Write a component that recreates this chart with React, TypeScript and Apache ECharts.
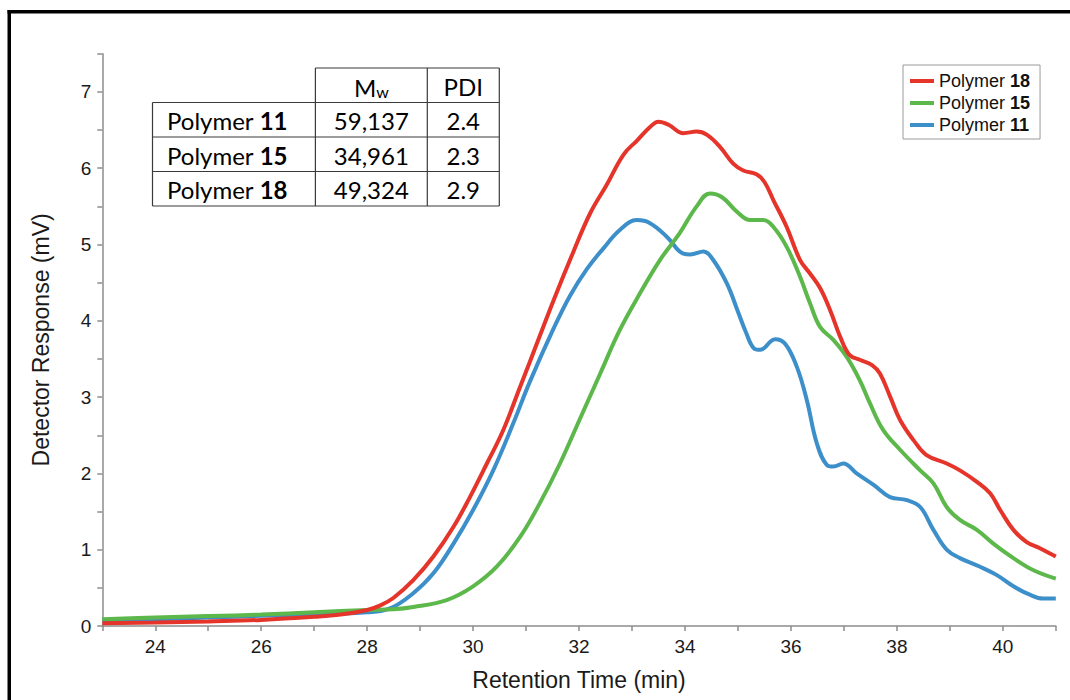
import React, { useEffect, useRef } from "react";
import * as echarts from "echarts";

// Retention time (min) and detector response (mV)
const p18Time = [23, 24, 25, 26, 27, 27.5, 28, 28.25, 28.5, 28.87, 29.25, 29.63, 29.94, 30.26, 30.57, 30.89, 31.07, 31.52, 31.89, 32.21, 32.52, 32.84, 33.09, 33.34, 33.5, 33.69, 33.97, 34.22, 34.41, 34.66, 34.91, 35.1, 35.35, 35.5, 35.67, 35.92, 36.17, 36.36, 36.55, 36.74, 36.93, 37.11, 37.3, 37.53, 37.68, 37.87, 38.06, 38.31, 38.56, 38.94, 39.19, 39.51, 39.76, 39.95, 40.2, 40.45, 40.7, 41];
const p18Resp = [0.035, 0.045, 0.06, 0.08, 0.12, 0.15, 0.21, 0.27, 0.37, 0.6, 0.91, 1.3, 1.69, 2.13, 2.57, 3.14, 3.46, 4.27, 4.9, 5.41, 5.78, 6.18, 6.36, 6.54, 6.61, 6.57, 6.46, 6.48, 6.44, 6.28, 6.06, 5.97, 5.92, 5.82, 5.58, 5.23, 4.8, 4.62, 4.43, 4.14, 3.79, 3.55, 3.49, 3.42, 3.31, 3.01, 2.7, 2.44, 2.24, 2.13, 2.04, 1.89, 1.74, 1.52, 1.26, 1.1, 1.02, 0.91];

const p15Time = [23, 24, 25, 26, 27, 28, 28.5, 28.87, 29.5, 30, 30.45, 30.89, 31.26, 31.64, 32.02, 32.4, 32.77, 33.15, 33.53, 33.9, 34.22, 34.47, 34.7, 34.98, 35.23, 35.48, 35.67, 35.92, 36.17, 36.36, 36.55, 36.8, 37.05, 37.3, 37.49, 37.74, 38.06, 38.44, 38.69, 38.94, 39.19, 39.51, 39.82, 40.2, 40.58, 41];
const p15Resp = [0.09, 0.11, 0.13, 0.15, 0.18, 0.21, 0.22, 0.25, 0.34, 0.52, 0.78, 1.17, 1.61, 2.13, 2.72, 3.31, 3.88, 4.36, 4.8, 5.15, 5.5, 5.67, 5.62, 5.43, 5.32, 5.32, 5.23, 4.97, 4.58, 4.23, 3.92, 3.75, 3.53, 3.22, 2.92, 2.57, 2.31, 2.04, 1.87, 1.56, 1.39, 1.26, 1.08, 0.89, 0.73, 0.62];

const p11Time = [23, 24, 25, 26, 27, 28, 28.43, 28.87, 29.25, 29.63, 30, 30.38, 30.76, 31.07, 31.52, 31.83, 32.15, 32.46, 32.77, 33.09, 33.34, 33.66, 33.97, 34.1, 34.35, 34.53, 34.79, 35, 35.15, 35.3, 35.42, 35.7, 35.89, 36.11, 36.3, 36.49, 36.68, 36.8, 36.99, 37.24, 37.56, 37.87, 38.19, 38.44, 38.69, 38.94, 39.19, 39.56, 39.88, 40.2, 40.51, 40.76, 41];
const p11Resp = [0.07, 0.09, 0.11, 0.135, 0.155, 0.18, 0.23, 0.43, 0.69, 1.08, 1.52, 2.04, 2.66, 3.2, 3.9, 4.33, 4.68, 4.95, 5.19, 5.32, 5.28, 5.1, 4.88, 4.87, 4.91, 4.8, 4.49, 4.12, 3.85, 3.64, 3.62, 3.76, 3.7, 3.4, 2.96, 2.39, 2.11, 2.09, 2.13, 2.0, 1.85, 1.69, 1.65, 1.56, 1.26, 1.0, 0.89, 0.78, 0.67, 0.52, 0.41, 0.36, 0.36];

const legendNames = ["Polymer 18", "Polymer 15", "Polymer 11"];
const tablePolymers = ["11", "15", "18"];
const tableMw = ["59,137", "34,961", "49,324"];
const tablePdi = ["2.4", "2.3", "2.9"];

const RED = "#e5342a";
const GREEN = "#5cb84a";
const BLUE = "#3d8fca";
const AXIS = "#8c8c8c";
const FONT = "Liberation Sans, Arial, sans-serif";
const TFONT = "Lato, 'Open Sans', sans-serif";

function pairs(t: number[], v: number[]) {
  return t.map((x, i) => [x, v[i]]);
}

export default function App() {
  const ref = useRef<HTMLDivElement>(null);

  useEffect(() => {
    if (!ref.current) return;
    const chart = echarts.init(ref.current, undefined, { renderer: "svg" });

    // table geometry
    const tL = 152.5, c1 = 315.4, c2 = 427.3, tR = 499.3;
    const rows = [68, 102.5, 137, 171.5, 206];
    const lineStyle = { stroke: "#3a3a3a", lineWidth: 1.2 };
    const tableEls: any[] = [];
    tableEls.push({ type: "line", shape: { x1: c1, y1: rows[0], x2: tR, y2: rows[0] }, style: lineStyle });
    for (let i = 1; i < rows.length; i++) {
      tableEls.push({ type: "line", shape: { x1: tL, y1: rows[i], x2: tR, y2: rows[i] }, style: lineStyle });
    }
    tableEls.push({ type: "line", shape: { x1: tL, y1: rows[1], x2: tL, y2: rows[4] }, style: lineStyle });
    tableEls.push({ type: "line", shape: { x1: c1, y1: rows[0], x2: c1, y2: rows[4] }, style: lineStyle });
    tableEls.push({ type: "line", shape: { x1: c2, y1: rows[0], x2: c2, y2: rows[4] }, style: lineStyle });
    tableEls.push({ type: "line", shape: { x1: tR, y1: rows[0], x2: tR, y2: rows[4] }, style: lineStyle });
    tableEls.push({
      type: "text",
      style: {
        x: (c1 + c2) / 2, y: (rows[0] + rows[1]) / 2 + 1, align: "center", verticalAlign: "middle",
        text: "{m|M}{w|w}",
        rich: {
          m: { fontSize: 24, fontFamily: TFONT, fill: "#000", lineHeight: 26, verticalAlign: "bottom" },
          w: { fontSize: 16, fontFamily: TFONT, fill: "#000", lineHeight: 22, verticalAlign: "bottom" },
        },
      },
    });
    tableEls.push({
      type: "text",
      style: { x: (c2 + tR) / 2, y: (rows[0] + rows[1]) / 2 + 1, align: "center", verticalAlign: "middle", text: "PDI", fontSize: 24, fontFamily: TFONT, fill: "#000" },
    });
    tablePolymers.forEach((p, i) => {
      const cy = (rows[i + 1] + rows[i + 2]) / 2 + 1;
      tableEls.push({
        type: "text",
        style: {
          x: 167, y: cy, align: "left", verticalAlign: "middle",
          text: `{n|Polymer }{b|${p}}`,
          rich: {
            n: { fontSize: 24, fontFamily: TFONT, fill: "#000" },
            b: { fontSize: 24, fontFamily: TFONT, fill: "#000", fontWeight: "bold" },
          },
        },
      });
      tableEls.push({
        type: "text",
        style: { x: (c1 + c2) / 2, y: cy, align: "center", verticalAlign: "middle", text: tableMw[i], fontSize: 24, fontFamily: TFONT, fill: "#000" },
      });
      tableEls.push({
        type: "text",
        style: { x: (c2 + tR) / 2, y: cy, align: "center", verticalAlign: "middle", text: tablePdi[i], fontSize: 24, fontFamily: TFONT, fill: "#000" },
      });
    });

    const option: any = {
      animation: false,
      backgroundColor: "#ffffff",
      grid: { left: 102.3, right: 14.2, top: 53.8, bottom: 74, containLabel: false },
      xAxis: {
        type: "value",
        min: 23,
        max: 41,
        interval: 1,
        axisLine: { show: true, lineStyle: { color: AXIS, width: 1.5 } },
        axisTick: { show: true, length: 5, lineStyle: { color: AXIS, width: 1.5 } },
        axisLabel: {
          formatter: (v: number) => (v % 2 === 0 ? String(v) : ""),
          color: "#1a1a1a",
          fontSize: 19,
          fontFamily: FONT,
          margin: 11,
        },
        splitLine: { show: false },
        name: "Retention Time (min)",
        nameLocation: "middle",
        nameGap: 42,
        nameTextStyle: { fontSize: 23, color: "#1a1a1a", fontFamily: FONT },
      },
      yAxis: {
        type: "value",
        min: 0,
        max: 7.5,
        interval: 0.5,
        axisLine: { show: true, lineStyle: { color: AXIS, width: 1.5 } },
        axisTick: { show: true, length: 5, lineStyle: { color: AXIS, width: 1.5 } },
        axisLabel: {
          formatter: (v: number) => (Number.isInteger(v) ? String(v) : ""),
          color: "#1a1a1a",
          fontSize: 19,
          fontFamily: FONT,
          margin: 11,
        },
        splitLine: { show: false },
        name: "Detector Response (mV)",
        nameLocation: "middle",
        nameGap: 50,
        nameTextStyle: { fontSize: 23, color: "#1a1a1a", fontFamily: FONT },
      },
      legend: {
        data: legendNames,
        orient: "vertical",
        left: 903,
        top: 65,
        padding: [7, 10, 5, 7],
        itemGap: 4,
        itemWidth: 24,
        itemHeight: 4,
        icon: "rect",
        borderColor: "#9a9a9a",
        borderWidth: 1,
        backgroundColor: "#fff",
        formatter: (name: string) => {
          const parts = name.split(" ");
          return `{n|${parts[0]} }{b|${parts[1]}}`;
        },
        textStyle: {
          rich: {
            n: { fontSize: 18, fontFamily: FONT, color: "#111", lineHeight: 18 },
            b: { fontSize: 18, fontFamily: FONT, color: "#111", fontWeight: "bold", lineHeight: 18 },
          },
        },
      },
      series: [
        {
          name: "Polymer 11",
          type: "line",
          data: pairs(p11Time, p11Resp),
          smooth: 0.4,
          showSymbol: false,
          lineStyle: { color: BLUE, width: 4 },
          itemStyle: { color: BLUE },
        },
        {
          name: "Polymer 15",
          type: "line",
          data: pairs(p15Time, p15Resp),
          smooth: 0.4,
          showSymbol: false,
          lineStyle: { color: GREEN, width: 4 },
          itemStyle: { color: GREEN },
        },
        {
          name: "Polymer 18",
          type: "line",
          data: pairs(p18Time, p18Resp),
          smooth: 0.4,
          showSymbol: false,
          lineStyle: { color: RED, width: 4 },
          itemStyle: { color: RED },
        },
      ],
      graphic: [
        { type: "rect", shape: { x: 7.5, y: 10, width: 1070, height: 3.5 }, style: { fill: "#000" }, z: 100 },
        { type: "rect", shape: { x: 7.5, y: 10, width: 3.5, height: 700 }, style: { fill: "#000" }, z: 100 },
        { type: "group", children: tableEls, z: 50 },
      ],
    };

    chart.setOption(option);
    return () => {
      chart.dispose();
    };
  }, []);

  return (
    <div
      ref={ref}
      style={{ position: "fixed", left: 0, top: 0, width: 1070, height: 700, background: "#fff" }}
    />
  );
}
